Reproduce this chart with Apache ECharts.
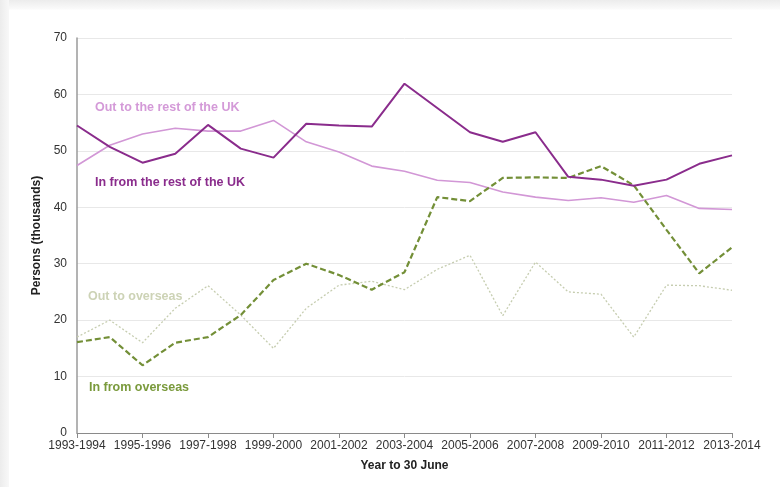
<!DOCTYPE html>
<html>
<head>
<meta charset="utf-8">
<script src="https://cdn.jsdelivr.net/npm/echarts@6/dist/echarts.min.js"></script>
<style>
html,body{margin:0;padding:0;width:780px;height:487px;overflow:hidden;background:#fff;}
#frame{position:absolute;left:0;top:0;width:780px;height:487px;background:linear-gradient(#ececec,#fafafa 9px,#fff 10px);}
#shadowL{position:absolute;left:0;top:0;width:9px;height:487px;background:linear-gradient(90deg,#ececec,#f8f8f8);}
#chart{position:absolute;left:0;top:0;width:780px;height:487px;}
</style>
</head>
<body>
<div id="frame"></div>
<div id="shadowL"></div>
<div id="chart"></div>
<script>
const categories = ["1993-1994","1994-1995","1995-1996","1996-1997","1997-1998","1998-1999","1999-2000","2000-2001","2001-2002","2002-2003","2003-2004","2004-2005","2005-2006","2006-2007","2007-2008","2008-2009","2009-2010","2010-2011","2011-2012","2012-2013","2013-2014"];
const inFromRestUK = [54.5,50.7,47.9,49.5,54.6,50.4,48.8,54.8,54.5,54.3,61.9,57.6,53.3,51.6,53.3,45.4,44.9,43.8,44.9,47.7,49.2];
const outToRestUK = [47.4,51.0,53.0,54.0,53.5,53.5,55.4,51.6,49.8,47.3,46.4,44.8,44.4,42.7,41.8,41.2,41.7,40.9,42.1,39.8,39.6];
const inFromOverseas = [16.1,17.0,12.0,16.0,17.0,20.9,27.1,30.0,28.0,25.4,28.5,41.8,41.1,45.2,45.3,45.2,47.3,43.9,36.0,28.3,32.9];
const outToOverseas = [17.0,20.0,16.0,22.1,26.1,20.9,15.0,22.1,26.2,26.9,25.4,29.0,31.5,20.8,30.3,25.0,24.6,17.0,26.2,26.1,25.3];
const yTicks = [0,10,20,30,40,50,60,70];

const font = "'Liberation Sans', Arial, sans-serif";
const chart = echarts.init(document.getElementById('chart'), null, {renderer:'canvas'});
chart.setOption({
  backgroundColor: 'transparent',
  animation: false,
  grid: {left: 77, right: 48, top: 38, bottom: 54, containLabel: false},
  xAxis: {
    type: 'category', data: categories, boundaryGap: false,
    name: 'Year to 30 June', nameLocation: 'middle', nameGap: 27,
    nameTextStyle: {fontFamily: font, fontWeight: 'bold', fontSize: 12, color: '#222'},
    axisLine: {lineStyle: {color: '#8a8a8a', width: 1}},
    axisTick: {show: true, interval: 1, length: 5, lineStyle: {color: '#8a8a8a'}},
    axisLabel: {interval: 1, fontFamily: font, fontSize: 12, color: '#333', margin: 7},
    splitLine: {show: false}
  },
  yAxis: {
    type: 'value', min: yTicks[0], max: yTicks[yTicks.length-1], interval: 10,
    name: 'Persons (thousands)', nameLocation: 'middle', nameGap: 31, nameRotate: 90,
    nameTextStyle: {fontFamily: font, fontWeight: 'bold', fontSize: 12, color: '#222'},
    axisLine: {show: true, lineStyle: {color: '#9a9a9a', width: 1.5}},
    axisTick: {show: false},
    axisLabel: {fontFamily: font, fontSize: 12, color: '#333', margin: 10},
    splitLine: {show: true, lineStyle: {color: '#e8e8e8', width: 1}}
  },
  series: [
    {name: 'Out to overseas', type: 'line', data: outToOverseas, symbol: 'none',
     lineStyle: {color: '#c6cdb0', width: 1.3, type: [2,2]}},
    {name: 'Out to the rest of the UK', type: 'line', data: outToRestUK, symbol: 'none',
     lineStyle: {color: '#d297d6', width: 1.6}},
    {name: 'In from overseas', type: 'line', data: inFromOverseas, symbol: 'none',
     lineStyle: {color: '#738f37', width: 2.2, type: [6,3]}},
    {name: 'In from the rest of the UK', type: 'line', data: inFromRestUK, symbol: 'none',
     lineStyle: {color: '#8a2c8c', width: 2}}
  ],
  graphic: [
    {type: 'text', left: 95, top: 101, style: {text: 'Out to the rest of the UK', fill: '#d49ad8', font: 'bold 12.5px ' + font}},
    {type: 'text', left: 95, top: 176, style: {text: 'In from the rest of the UK', fill: '#8a2c8c', font: 'bold 12.5px ' + font}},
    {type: 'text', left: 88, top: 290, style: {text: 'Out to overseas', fill: '#cdd3b6', font: 'bold 12.5px ' + font}},
    {type: 'text', left: 89, top: 381, style: {text: 'In from overseas', fill: '#7a9a3c', font: 'bold 12.5px ' + font}}
  ]
});
</script>
</body>
</html>
